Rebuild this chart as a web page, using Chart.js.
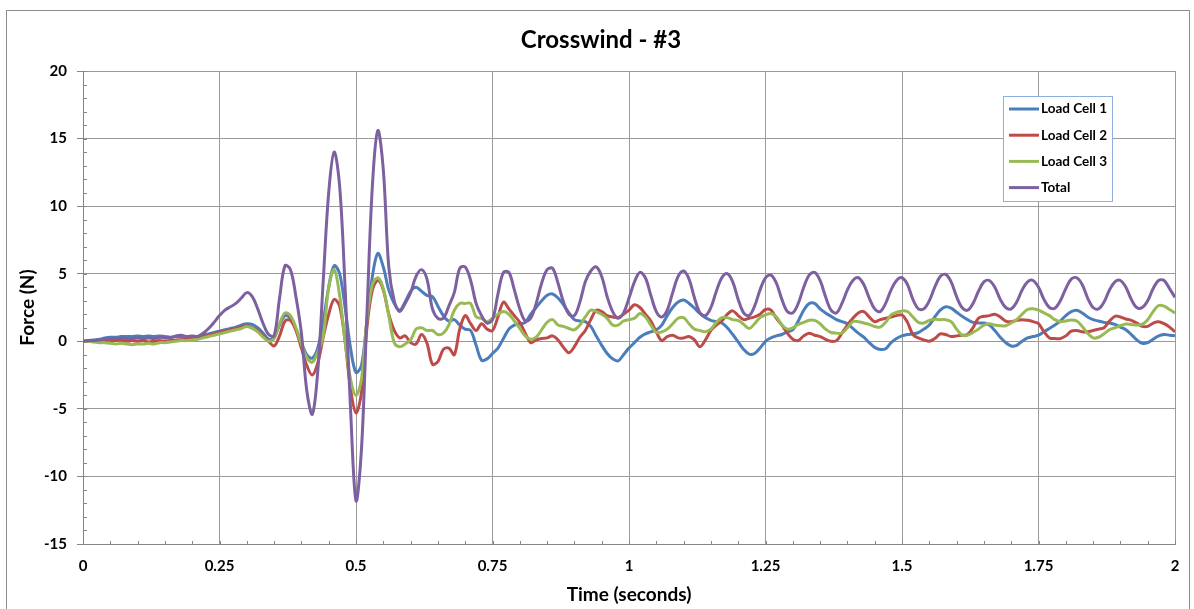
<!DOCTYPE html>
<html>
<head>
<meta charset="utf-8">
<script src="https://cdn.jsdelivr.net/npm/chart.js@4"></script>
<style>
  html, body { margin: 0; padding: 0; background: #fff; }
  #wrap { width: 1194px; height: 609px; }
</style>
</head>
<body>
<div id="wrap"><canvas id="crosswind" width="1194" height="609"></canvas></div>
<script>
// sample times, 0 to 2 s every 0.01 s
var times = Array.from({ length: 201 }, function (_, i) { return +(i * 0.01).toFixed(2); });

var xTicks = [0, 0.25, 0.5, 0.75, 1, 1.25, 1.5, 1.75, 2];
var yTicks = [-15, -10, -5, 0, 5, 10, 15, 20];

var seriesNames = ["Load Cell 1", "Load Cell 2", "Load Cell 3", "Total"];

var loadCell1 = [
  0, 0.05, 0.1, 0.15, 0.25, 0.3, 0.3, 0.35, 0.35, 0.35,
  0.4, 0.35, 0.4, 0.35, 0.4, 0.35, 0.3, 0.35, 0.3, 0.3,
  0.3, 0.35, 0.45, 0.55, 0.65, 0.75, 0.85, 0.95, 1.05, 1.2,
  1.3, 1.25, 1.0, 0.6, 0.15, 0.3, 1.2, 1.9, 1.7, 0.9,
  -0.1, -1.0, -1.25, -0.5, 1.5, 4.0, 5.6, 5.0, 2.5, -0.5,
  -2.3, -1.8, 1.5, 4.8, 6.5, 5.5, 3.8, 2.8, 2.3, 2.9,
  3.7, 4.0, 3.7, 3.4, 3.3, 2.6, 1.9, 1.5, 1.6, 1.2,
  0.9, 0.8, -0.3, -1.4, -1.3, -0.9, -0.5, 0.2, 0.9, 1.2,
  1.3, 1.4, 2.0, 2.5, 3.0, 3.4, 3.5, 3.2, 2.7, 2.1,
  1.6, 1.5, 1.45, 1.1, 0.4, -0.3, -0.9, -1.3, -1.45, -1.0,
  -0.5, -0.1, 0.3, 0.55, 0.7, 0.85, 1.2, 1.9, 2.5, 2.9,
  3.05, 2.8, 2.45, 2.05, 1.75, 1.55, 1.45, 1.35, 1.0, 0.5,
  -0.05, -0.6, -0.95, -0.9, -0.5, 0.0, 0.25, 0.4, 0.5, 0.7,
  0.85, 1.5, 2.3, 2.8, 2.8, 2.4, 2.1, 1.85, 1.6, 1.45,
  1.3, 0.95, 0.6, 0.3, -0.1, -0.45, -0.6, -0.55, -0.1, 0.2,
  0.4, 0.5, 0.55, 0.65, 0.9, 1.2, 1.8, 2.3, 2.55, 2.45,
  2.15, 1.85, 1.6, 1.4, 1.35, 1.35, 1.2, 0.8, 0.3, -0.1,
  -0.35, -0.3, 0.0, 0.25, 0.35, 0.45, 0.7, 0.95, 1.2, 1.5,
  1.9, 2.2, 2.3, 2.1, 1.8, 1.6, 1.5, 1.4, 1.35, 1.25,
  1.05, 0.85, 0.5, 0.1, -0.15, -0.1, 0.15, 0.4, 0.5, 0.45,
  0.4
];

var loadCell2 = [
  0, 0.0, 0.05, 0.0, 0.05, 0.0, 0.05, 0.1, 0.0, 0.05,
  0.0, 0.05, -0.05, 0.0, 0.05, 0.0, 0.05, 0.1, 0.1, 0.15,
  0.2, 0.25, 0.35, 0.45, 0.55, 0.65, 0.75, 0.85, 0.95, 1.05,
  1.15, 1.0, 0.8, 0.4, 0.0, -0.35, 0.4, 1.5, 1.55, 0.8,
  -0.5, -1.8, -2.5, -1.6, 0.3, 2.0, 3.1, 2.6, 0.0, -3.5,
  -5.3, -3.8, 1.0, 3.8, 4.5, 3.8, 2.0, 0.8, 0.25, 0.4,
  -0.1, -0.2, 0.5, -0.15, -1.7, -1.5, -0.6, -0.5, -1.0, 0.9,
  1.9, 1.3, 0.8, 1.3, 0.9, 0.8, 1.8, 2.9, 2.4, 1.9,
  1.4, 0.6, -0.1, 0.1, 0.2, 0.25, 0.4, 0.1, -0.45, -0.85,
  -0.4, 0.3, 0.8, 1.6, 2.3, 2.2, 1.9, 1.8, 1.75, 2.0,
  2.3, 2.7, 2.5, 2.0, 1.5, 0.7, 0.05, 0.35, 0.45, 0.25,
  0.25, 0.35, 0.1, -0.4, 0.1, 0.8, 1.2, 1.5, 2.0, 2.25,
  1.9, 1.6, 1.7, 1.8, 2.0, 2.35, 2.3, 1.7, 1.2, 0.6,
  0.15, 0.05, 0.4, 0.6, 0.45, 0.35, 0.15, 0.0, 0.05, 0.6,
  1.2, 1.7, 2.1, 2.2, 1.8, 1.45, 1.6, 1.7, 1.8, 1.9,
  1.95, 1.4, 0.5, 0.25, 0.1, 0.0, 0.2, 0.55, 0.5, 0.35,
  0.4, 0.45, 0.5, 1.0, 1.7, 1.85, 1.9, 2.0, 1.8, 1.5,
  1.45, 1.55, 1.6, 1.55, 1.45, 1.3, 0.7, 0.25, 0.2, 0.2,
  0.4, 0.75, 0.8, 0.7, 0.7, 0.8, 0.9, 1.0, 1.5, 1.85,
  1.8, 1.65, 1.55, 1.35, 1.1, 1.1, 1.35, 1.45, 1.3, 1.05,
  0.7
];

var loadCell3 = [
  0, 0.0, -0.05, -0.1, -0.1, -0.15, -0.2, -0.15, -0.2, -0.25,
  -0.2, -0.2, -0.15, -0.2, -0.1, -0.1, -0.05, 0.0, 0.05, 0.05,
  0.1, 0.15, 0.25, 0.35, 0.45, 0.55, 0.65, 0.75, 0.85, 0.95,
  1.1, 0.95, 0.7, 0.3, 0.0, 0.2, 1.3, 2.1, 1.9, 1.0,
  -0.2, -1.2, -1.55, -0.8, 0.4, 4.0, 5.3, 3.4, 0.0, -2.8,
  -4.0, -2.8, 1.6, 4.2, 4.7, 3.9, 1.9, -0.1, -0.4, -0.2,
  0.1, 0.9, 1.0, 0.8, 0.8, 0.5, 0.6, 1.2, 2.3, 2.8,
  2.8, 2.8, 1.8, 1.7, 1.45, 1.7, 2.0, 2.2, 2.0, 1.5,
  0.95, 0.4, 0.15, 0.3, 0.85, 1.4, 1.6, 1.2, 1.1, 0.95,
  0.85, 1.2, 1.8, 2.3, 2.2, 2.0, 1.7, 1.2, 1.2, 1.5,
  1.6, 1.7, 2.05, 1.8, 1.2, 0.65, 0.7, 0.9, 1.3, 1.7,
  1.75, 1.3, 0.9, 0.8, 0.7, 0.9, 1.4, 1.75, 1.75, 1.6,
  1.55, 1.25, 0.95, 1.3, 1.75, 1.95, 2.05, 1.8, 1.2, 0.9,
  1.0, 1.25, 1.4, 1.55, 1.55, 1.3, 0.9, 0.65, 0.6, 0.6,
  1.0, 1.45, 1.45, 1.35, 1.25, 1.1, 1.05, 1.4, 1.95, 2.15,
  2.25, 2.2, 1.8, 1.4, 1.35, 1.55, 1.63, 1.6, 1.6, 1.45,
  0.9, 0.45, 0.45, 0.65, 0.9, 1.2, 1.3, 1.2, 1.15, 1.15,
  1.35, 1.6, 2.0, 2.35, 2.4, 2.3, 2.1, 1.9, 1.6, 1.45,
  1.5, 1.58, 1.5, 1.1, 0.6, 0.25, 0.3, 0.55, 0.85, 1.0,
  1.15, 1.28, 1.25, 1.2, 1.25, 1.6, 2.2, 2.65, 2.6, 2.35,
  2.1
];

var total = [
  0, 0.05, 0.05, 0.1, 0.15, 0.2, 0.2, 0.25, 0.2, 0.2,
  0.25, 0.2, 0.25, 0.2, 0.3, 0.25, 0.25, 0.4, 0.45, 0.35,
  0.4, 0.35, 0.6, 0.95, 1.4, 1.9, 2.3, 2.55, 2.8, 3.2,
  3.6, 3.3, 2.4, 1.3, 0.5, 0.4, 3.2, 5.6, 5.3, 3.3,
  0.6, -3.7, -5.4, -2.2, 4.5, 11.0, 14.0, 11.5, 4.0, -5.0,
  -11.8, -8.0, 2.0, 11.5, 15.6, 12.7, 5.5, 3.0, 2.2, 2.8,
  3.6, 4.8, 5.3, 4.6, 2.4, 1.7, 1.7, 2.6, 3.6, 5.4,
  5.5, 4.5, 2.8, 1.9, 1.35, 1.6, 3.5, 5.1, 5.1, 3.8,
  2.4, 1.5, 1.7, 2.8, 4.3, 5.3, 5.4, 4.3, 2.9, 2.0,
  1.9, 2.9, 4.4, 5.2, 5.5, 4.8, 3.3, 2.2, 1.7, 2.1,
  3.2, 4.4, 5.1, 4.7, 3.4, 2.2, 1.8, 2.3, 3.6, 4.8,
  5.2, 4.6, 3.2, 2.1, 1.9, 2.5, 3.7, 4.7, 5.0, 4.4,
  3.1, 2.1, 1.9, 2.6, 3.8, 4.7, 4.9, 4.3, 3.1, 2.2,
  2.1, 2.8, 4.0, 4.9, 5.1, 4.5, 3.3, 2.3, 2.1, 2.8,
  3.8, 4.5, 4.7, 4.2, 3.2, 2.4, 2.2, 2.8, 3.8, 4.5,
  4.7, 4.2, 3.1, 2.4, 2.4, 3.0, 4.0, 4.8, 4.95, 4.4,
  3.3, 2.5, 2.3, 2.8, 3.7, 4.4, 4.5, 4.0, 3.1, 2.5,
  2.4, 2.9, 3.8, 4.4, 4.5, 4.0, 3.1, 2.5, 2.45, 3.0,
  3.9, 4.6, 4.7, 4.2, 3.2, 2.5, 2.4, 2.9, 3.8, 4.4,
  4.5, 4.0, 3.1, 2.5, 2.5, 3.0, 3.9, 4.5, 4.5, 3.9,
  3.25
];

var colors = ["#4a7ebb", "#be4b48", "#98b954", "#7d60a0"];
var FONT = "Lato, 'Open Sans', sans-serif";

function points(values) {
  return values.map(function (v, i) { return { x: times[i], y: v }; });
}

// frame, centred title, minor ticks and the boxed legend
var decorations = {
  id: "decorations",
  beforeDatasetsDraw: function (chart) {
    var ctx = chart.ctx, area = chart.chartArea;
    var x = chart.scales.x, y = chart.scales.y;
    ctx.save();
    ctx.strokeStyle = "#868686";
    ctx.lineWidth = 1;
    ctx.beginPath();
    for (var v = -15; v <= 20; v++) {
      var py = Math.round(y.getPixelForValue(v)) + 0.5;
      ctx.moveTo(area.left, py);
      ctx.lineTo(area.left + 4, py);
    }
    for (var i = 0; i <= 40; i++) {
      var px = Math.round(x.getPixelForValue(i * 0.05)) + 0.5;
      ctx.moveTo(px, area.bottom);
      ctx.lineTo(px, area.bottom - 3);
    }
    ctx.stroke();
    ctx.restore();
  },
  afterDraw: function (chart) {
    var ctx = chart.ctx;
    ctx.save();
    ctx.strokeStyle = "#8c8c8c";
    ctx.lineWidth = 1;
    ctx.strokeRect(6.5, 10.5, 1183, 620);

    ctx.fillStyle = "#000";
    ctx.font = "bold 24px " + FONT;
    ctx.textAlign = "center";
    ctx.textBaseline = "middle";
    ctx.fillText("Crosswind - #3", 601, 40);

    // legend box
    var bx = 1003, by = 96, bw = 109, bh = 105;
    ctx.fillStyle = "#fff";
    ctx.fillRect(bx, by, bw, bh);
    ctx.strokeStyle = "#8eb0dc";
    ctx.strokeRect(bx + 0.5, by + 0.5, bw, bh);
    ctx.font = "bold 13.5px " + FONT;
    ctx.textAlign = "left";
    chart.data.datasets.forEach(function (ds, k) {
      var ry = 109 + k * 26.2;
      ctx.strokeStyle = ds.borderColor;
      ctx.lineWidth = 3;
      ctx.beginPath();
      ctx.moveTo(1009, ry);
      ctx.lineTo(1039, ry);
      ctx.stroke();
      ctx.fillStyle = "#000";
      ctx.fillText(ds.label, 1041, ry);
    });
    ctx.restore();
  }
};

new Chart(document.getElementById("crosswind"), {
  type: "line",
  data: {
    datasets: [
      { label: seriesNames[0], data: points(loadCell1), borderColor: colors[0], order: 3 },
      { label: seriesNames[1], data: points(loadCell2), borderColor: colors[1], order: 2 },
      { label: seriesNames[2], data: points(loadCell3), borderColor: colors[2], order: 1 },
      { label: seriesNames[3], data: points(total), borderColor: colors[3], order: 0 }
    ]
  },
  options: {
    responsive: false,
    animation: false,
    layout: { padding: { left: 6, right: 19, top: 71, bottom: 0 } },
    elements: {
      line: { borderWidth: 3, tension: 0.35, fill: false },
      point: { radius: 0, hoverRadius: 0 }
    },
    scales: {
      x: {
        type: "linear",
        min: 0,
        max: 2,
        afterBuildTicks: function (scale) {
          scale.ticks = xTicks.map(function (v) { return { value: v }; });
        },
        afterFit: function (scale) { scale.height = 65; },
        grid: { color: "#9a9a9a", drawTicks: false },
        border: { color: "#868686" },
        ticks: {
          padding: 13,
          color: "#000",
          font: { family: FONT, size: 15, weight: "bold" },
          callback: function (v) { return String(+v.toFixed(2)); }
        },
        title: {
          display: true,
          text: "Time (seconds)",
          color: "#000",
          font: { family: FONT, size: 19, weight: "bold" },
          padding: { top: 0, bottom: 3 }
        }
      },
      y: {
        min: -15,
        max: 20,
        afterBuildTicks: function (scale) {
          scale.ticks = yTicks.map(function (v) { return { value: v }; });
        },
        afterFit: function (scale) { scale.width = 77; },
        grid: { color: "#9a9a9a", tickLength: 6, tickColor: "#868686" },
        border: { color: "#868686" },
        ticks: {
          padding: 10,
          color: "#000",
          font: { family: FONT, size: 15, weight: "bold" }
        },
        title: {
          display: true,
          text: "Force (N)",
          color: "#000",
          font: { family: FONT, size: 19, weight: "bold" },
          padding: { top: 10, bottom: 0 }
        }
      }
    },
    plugins: {
      legend: { display: false },
      title: { display: false },
      tooltip: { enabled: false }
    }
  },
  plugins: [decorations]
});
</script>
</body>
</html>
